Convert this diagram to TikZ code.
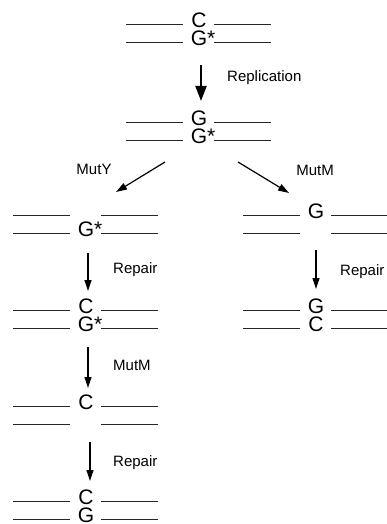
\documentclass[tikz,border=0pt]{standalone}
\usepackage{fontspec}
\setmainfont{Liberation Sans}
\usetikzlibrary{arrows.meta}
\tikzset{
  nucleo/.style={font=\fontsize{21}{21}\selectfont, inner sep=0pt, anchor=base},
  enzyme/.style={font=\fontsize{15}{15}\selectfont, inner sep=0pt},
  strand/.style={line width=1pt, draw=black!85},
  bigstep/.style={line width=2pt, -{Triangle[length=15pt,width=11pt]}},
  smallstep/.style={line width=1.2pt, -{Triangle[length=11pt,width=7pt]}},
}
% #1 name, #2 x of the base pair, #3 y of upper strand, #4 upper base, #5 lower base
\newcommand\duplex[5]{%
  \draw[strand] (#2-73,#3) -- (#2-16,#3) (#2+15,#3) -- (#2+72,#3);
  \draw[strand] (#2-73,#3+18) -- (#2-16,#3+18) (#2+15,#3+18) -- (#2+72,#3+18);
  \node[nucleo] (#1t) at (#2,#3+3) {#4};
  \node[nucleo] (#1b) at (#2,#3+21) {#5};
}
\begin{document}
\begin{tikzpicture}[x=1pt,y=-1pt]
\useasboundingbox (0,0) rectangle (387,524);

% main column
\duplex{pa}{199}{25}{C}{G\rlap{*}}
\duplex{pb}{199}{122}{G}{G\rlap{*}}

% MutY branch
\duplex{la}{86}{215}{}{G\rlap{*}}
\duplex{lb}{86}{310}{C}{G\rlap{*}}
\duplex{lc}{86}{406}{C}{}
\duplex{ld}{86}{501}{C}{G}

% MutM branch
\duplex{ra}{316}{215}{G}{}
\duplex{rb}{316}{310}{G}{C}

% arrow end points
\coordinate (repS) at (201,65);   \coordinate (repE) at (201,101);
\coordinate (myS)  at (165,162);  \coordinate (myE)  at (116,192);
\coordinate (mmS)  at (238,162);  \coordinate (mmE)  at (289,193);
\coordinate (l1S)  at (88,253);   \coordinate (l1E)  at (88,291);
\coordinate (l2S)  at (88,347);   \coordinate (l2E)  at (88,388);
\coordinate (l3S)  at (90,442);   \coordinate (l3E)  at (90,481);
\coordinate (r1S)  at (316,250);  \coordinate (r1E)  at (316,289);

\draw[bigstep] (repS) -- (repE);
\draw[smallstep] (myS) -- (myE);
\draw[smallstep] (mmS) -- (mmE);
\draw[smallstep] (l1S) -- (l1E);
\draw[smallstep] (l2S) -- (l2E);
\draw[smallstep] (l3S) -- (l3E);
\draw[smallstep] (r1S) -- (r1E);

% enzyme / step labels
\node[enzyme, anchor=west] (lrep) at (227,78) {Replication};
\node[enzyme] (lmy) at (94,169) {MutY};
\node[enzyme] (lmm) at (315,170) {MutM};
\node[enzyme, anchor=west] (lr1) at (113,270) {Repair};
\node[enzyme, anchor=west] (lm2) at (113,365) {MutM};
\node[enzyme, anchor=west] (lr3) at (113,463) {Repair};
\node[enzyme, anchor=west] (lr4) at (340,272) {Repair};
\end{tikzpicture}
\end{document}
